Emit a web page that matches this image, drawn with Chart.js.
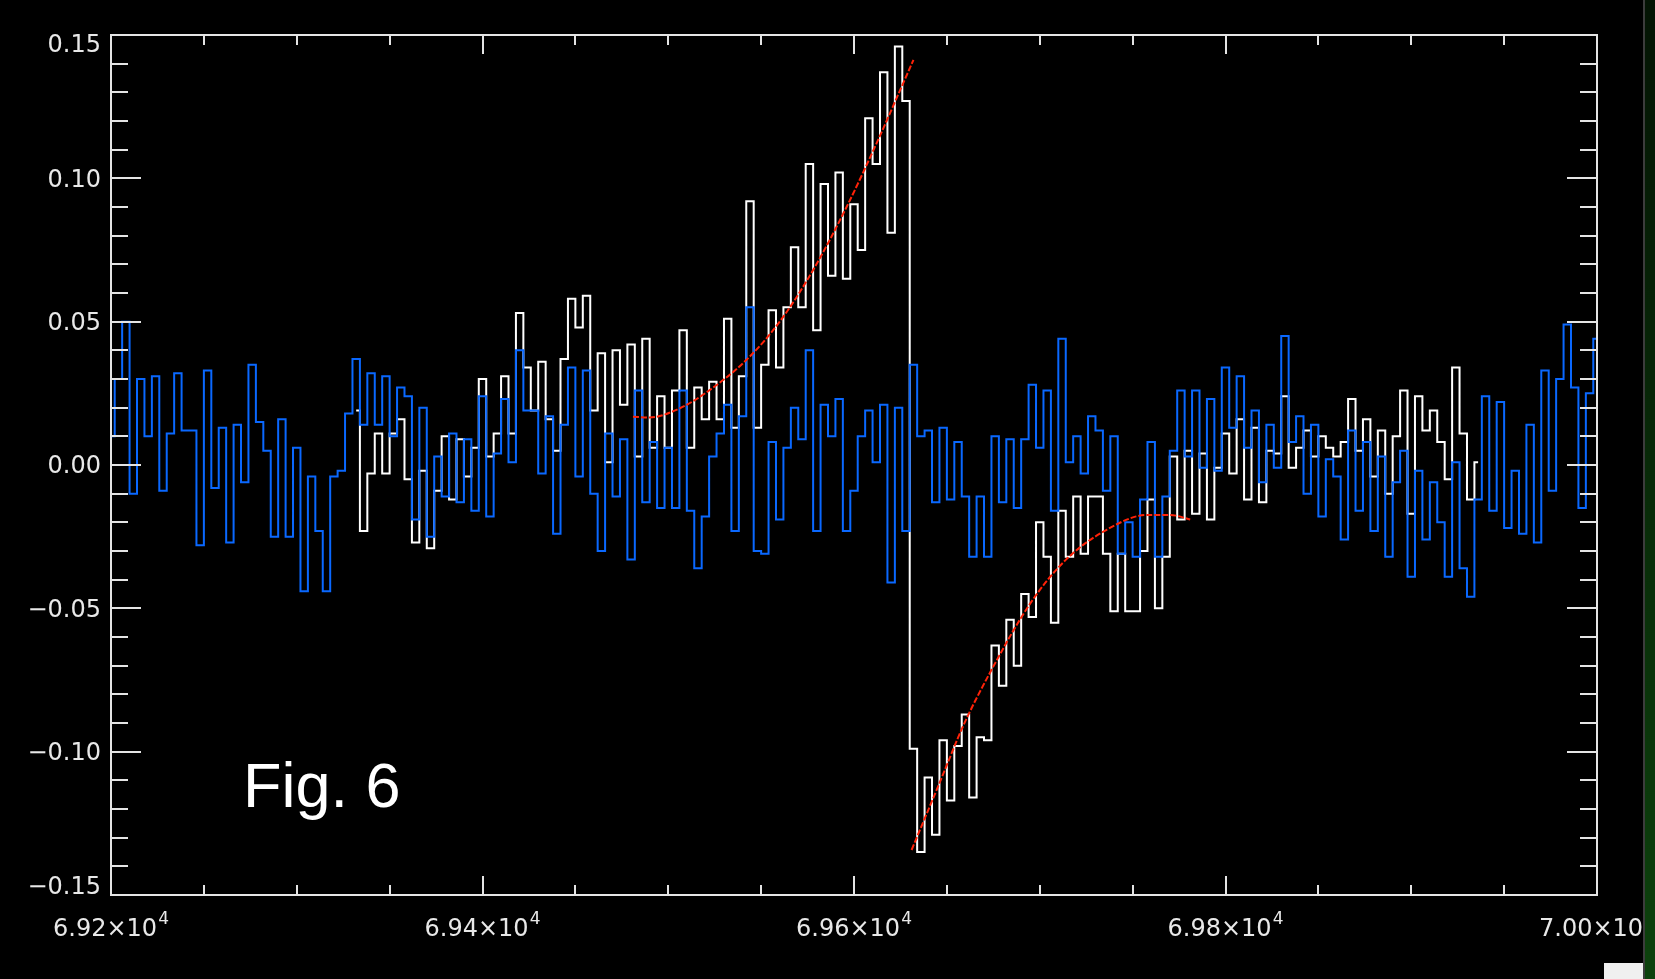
<!DOCTYPE html>
<html>
<head>
<meta charset="utf-8">
<script src="https://cdn.jsdelivr.net/npm/chart.js@4.4.1/dist/chart.umd.min.js"></script>
<style>
  html, body { margin: 0; padding: 0; background: #000; overflow: hidden; }
  #wrap { position: relative; width: 1655px; height: 979px; background: #000; }
  canvas { display: block; }
  #edge { position: absolute; left: 1643px; top: 0; width: 12px; height: 979px;
          background: linear-gradient(#041404, #0d420d); border-left: 2px solid #3c3c3c; box-sizing: border-box; }
  #grip { position: absolute; left: 1604px; top: 963px; width: 39px; height: 16px; background: #f0f0f0; }
</style>
</head>
<body>
<div id="wrap">
  <canvas id="c" width="1655" height="979"></canvas>
  <div id="edge"></div>
  <div id="grip"></div>
</div>
<script>
// Histogram bins: first bin centre and bin width (x units)
const binStart = 69200;
const binWidth = 4;

// Blue series, one value per bin from binStart
const blue = [
  0.010, 0.030, 0.050, -0.010, 0.030, 0.010, 0.031, -0.009, 0.011, 0.032,
  0.012, 0.012, -0.028, 0.033, -0.008, 0.013, -0.027, 0.014, -0.006, 0.035,
  0.015, 0.005, -0.025, 0.016, -0.025, 0.006, -0.044, -0.004, -0.023, -0.044,
  -0.004, -0.002, 0.018, 0.037, 0.014, 0.032, 0.014, 0.031, 0.010, 0.027,
  0.024, -0.019, 0.020, -0.025, 0.003, -0.011, 0.011, -0.013, 0.009, -0.016,
  0.024, -0.018, 0.004, 0.023, 0.001, 0.040, 0.019, 0.019, -0.003, 0.017,
  -0.024, 0.014, 0.034, -0.004, 0.033, -0.010, -0.030, 0.011, -0.011, 0.009,
  -0.033, 0.026, -0.013, 0.008, -0.015, 0.006, -0.015, 0.026, -0.016, -0.036,
  -0.018, 0.003, 0.011, 0.021, -0.023, 0.017, 0.055, -0.030, -0.031, 0.008,
  -0.019, 0.006, 0.020, 0.009, 0.040, -0.023, 0.021, 0.010, 0.023, -0.023,
  -0.009, 0.010, 0.019, 0.001, 0.021, -0.041, 0.020, -0.023, 0.035, 0.010,
  0.012, -0.013, 0.013, -0.012, 0.008, -0.011, -0.032, -0.011, -0.032, 0.010,
  -0.013, 0.009, -0.015, 0.009, 0.028, 0.006, 0.026, -0.016, 0.044, 0.001,
  0.010, -0.003, 0.017, 0.012, -0.009, 0.010, -0.031, -0.020, -0.032, -0.012,
  0.008, -0.032, -0.011, 0.005, 0.026, 0.003, 0.026, -0.001, 0.023, -0.002,
  0.034, 0.013, 0.031, 0.006, 0.019, -0.006, 0.014, -0.001, 0.045, 0.008,
  0.017, -0.010, 0.014, -0.018, 0.002, -0.004, -0.026, 0.012, -0.016, 0.008,
  -0.023, 0.003, -0.032, -0.006, 0.005, -0.039, -0.002, -0.026, -0.006, -0.020,
  -0.039, 0.001, -0.036, -0.046, -0.012, 0.024, -0.016, 0.022, -0.022, -0.002,
  -0.024, 0.014, -0.027, 0.033, -0.009, 0.030, 0.049, 0.027, -0.015, 0.025,
  0.044
];

// White series starts at this bin index
const whiteStart = 33;
const white = [
  0.019, -0.023, -0.003, 0.011, -0.003, 0.011, 0.016,
  -0.005, -0.027, -0.002, -0.029, -0.009, 0.010, -0.012, 0.009, -0.004, 0.006,
  0.030, 0.003, 0.011, 0.031, 0.011, 0.053, 0.034, 0.019, 0.036, 0.016,
  0.005, 0.037, 0.058, 0.048, 0.059, 0.019, 0.039, 0.001, 0.040, 0.021,
  0.042, 0.003, 0.044, 0.006, 0.024, 0.006, 0.026, 0.047, 0.006, 0.027,
  0.016, 0.029, 0.016, 0.051, 0.013, 0.031, 0.092, 0.013, 0.035, 0.054,
  0.034, 0.055, 0.076, 0.055, 0.105, 0.047, 0.098, 0.066, 0.102, 0.065,
  0.091, 0.075, 0.121, 0.105, 0.137, 0.081, 0.146, 0.127,
  -0.099, -0.135, -0.109, -0.129, -0.096, -0.117, -0.098, -0.087, -0.116, -0.095,
  -0.096, -0.063, -0.077, -0.054, -0.070, -0.045, -0.053, -0.020, -0.032, -0.055,
  -0.016, -0.032, -0.011, -0.031, -0.011, -0.011, -0.031, -0.051, -0.031, -0.051,
  -0.051, -0.030, -0.012, -0.050, -0.032, 0.003, -0.019, 0.005, -0.017, 0.004,
  -0.019, -0.001, 0.011, -0.003, 0.016, -0.012, 0.013, -0.013, 0.005,
  0.004, 0.024, -0.001, 0.006, 0.012, 0.003, 0.010, 0.006, 0.003, 0.008,
  0.023, 0.005, 0.016, -0.004, 0.012, -0.010, 0.010, 0.026, -0.017, 0.024,
  0.012, 0.019, 0.008, -0.005, 0.034, 0.011, -0.012, 0.001
];

// Red fitted curves (rising branch before the jump, recovering branch after it)
const fitRiseX = [69481, 69490, 69506, 69522, 69542, 69560, 69578, 69596, 69612, 69625, 69632];
const fitRiseY = [0.0168, 0.0166, 0.0197, 0.0260, 0.0366, 0.0500, 0.0680, 0.0900, 0.1120, 0.1310, 0.1413];
const fitFallX = [69631, 69646, 69659, 69673, 69695, 69714, 69736, 69758, 69770, 69781];
const fitFallY = [-0.1343, -0.1110, -0.0907, -0.0727, -0.0482, -0.0331, -0.0226, -0.0174, -0.0174, -0.0190];

// Axis ranges and ticks
const xMin = 69200, xMax = 70000, xMajor = 200, xMinor = 50;
const yMin = -0.15, yMax = 0.15, yMajor = 0.05, yMinor = 0.01;
const xTickValues = [69200, 69400, 69600, 69800, 70000];
const xTickMantissa = ['6.92', '6.94', '6.96', '6.98', '7.00'];
const xTickPower = '4';
const yTickValues = [0.15, 0.10, 0.05, 0.00, -0.05, -0.10, -0.15];
const yTickLabels = ['0.15', '0.10', '0.05', '0.00', '\u22120.05', '\u22120.10', '\u22120.15'];
const figLabel = 'Fig. 6';

const binPoints = (vals, offset) => vals.map((v, i) => ({ x: binStart + (offset + i) * binWidth, y: v }));
const xyPoints = (xs, ys) => xs.map((x, i) => ({ x, y: ys[i] }));

const tickFont = '24px "DejaVu Sans"';
const powFont = '17px "DejaVu Sans"';

// Box axes with inward ticks on all four sides, plus labels
const boxAxes = {
  id: 'boxAxes',
  afterDatasetsDraw(chart) {
    const ctx = chart.ctx;
    const xs = chart.scales.x, ys = chart.scales.y;
    const { left, right, top, bottom } = chart.chartArea;
    ctx.save();
    ctx.strokeStyle = '#e4e4e4';
    ctx.lineWidth = 2;
    ctx.beginPath();
    ctx.rect(left, top, right - left, bottom - top);
    ctx.stroke();

    ctx.beginPath();
    const nx = Math.round((xMax - xMin) / xMinor);
    for (let i = 0; i <= nx; i++) {
      const v = xMin + i * xMinor;
      const px = Math.round(xs.getPixelForValue(v));
      const len = (i % (xMajor / xMinor) === 0) ? 19 : 10;
      ctx.moveTo(px, bottom); ctx.lineTo(px, bottom - len);
      ctx.moveTo(px, top); ctx.lineTo(px, top + len);
    }
    const ny = Math.round((yMax - yMin) / yMinor);
    const perMajor = Math.round(yMajor / yMinor);
    for (let i = 0; i <= ny; i++) {
      const v = yMin + i * yMinor;
      const py = Math.round(ys.getPixelForValue(v));
      const len = (i % perMajor === 0) ? 30 : 17;
      ctx.moveTo(left, py); ctx.lineTo(left + len, py);
      ctx.moveTo(right, py); ctx.lineTo(right - len, py);
    }
    ctx.stroke();

    ctx.fillStyle = '#e8e8e8';
    ctx.font = tickFont;
    ctx.textAlign = 'right';
    ctx.textBaseline = 'middle';
    yTickValues.forEach((v, i) => {
      let py = ys.getPixelForValue(v) + 2;
      if (i === 0) py = top + 11;
      if (i === yTickValues.length - 1) py = bottom - 7;
      ctx.fillText(yTickLabels[i], left - 10, py);
    });

    // x labels: mantissa×10 with a raised power, centred on the tick
    ctx.textAlign = 'left';
    ctx.textBaseline = 'alphabetic';
    xTickValues.forEach((v, i) => {
      const base = xTickMantissa[i] + '\u00d710';
      ctx.font = tickFont;
      const wBase = ctx.measureText(base).width;
      ctx.font = powFont;
      const wPow = ctx.measureText(xTickPower).width;
      const x0 = xs.getPixelForValue(v) - (wBase + wPow + 1) / 2;
      const baseY = bottom + 41;
      ctx.font = tickFont;
      ctx.fillText(base, x0, baseY);
      ctx.font = powFont;
      ctx.fillText(xTickPower, x0 + wBase + 1, baseY - 12);
    });

    ctx.fillStyle = '#ffffff';
    ctx.font = '63px "Liberation Sans"';
    ctx.textAlign = 'left';
    ctx.textBaseline = 'alphabetic';
    ctx.fillText(figLabel, 243, 807);
    ctx.restore();
  }
};

new Chart(document.getElementById('c'), {
  type: 'line',
  data: {
    datasets: [
      { data: xyPoints(fitRiseX, fitRiseY), borderColor: '#ff2208', borderWidth: 2, borderDash: [6, 2],
        pointRadius: 0, cubicInterpolationMode: 'monotone', order: 0 },
      { data: xyPoints(fitFallX, fitFallY), borderColor: '#ff2208', borderWidth: 2, borderDash: [6, 2],
        pointRadius: 0, cubicInterpolationMode: 'monotone', order: 0 },
      { data: binPoints(blue, 0), borderColor: '#0a68ff', borderWidth: 2, stepped: 'middle',
        pointRadius: 0, order: 1 },
      { data: binPoints(white, whiteStart), borderColor: '#ffffff', borderWidth: 2, stepped: 'middle',
        pointRadius: 0, order: 2 }
    ]
  },
  options: {
    responsive: false,
    animation: false,
    layout: { padding: { left: 111, right: 58, top: 35, bottom: 84 } },
    scales: {
      x: { type: 'linear', min: xMin, max: xMax, display: false },
      y: { type: 'linear', min: yMin, max: yMax, display: false }
    },
    plugins: { legend: { display: false }, tooltip: { enabled: false } }
  },
  plugins: [boxAxes]
});
</script>
</body>
</html>
